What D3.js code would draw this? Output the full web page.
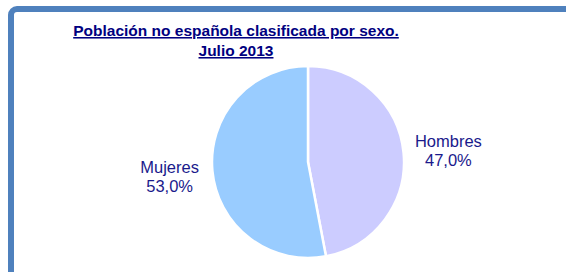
<!DOCTYPE html>
<html>
<head>
<meta charset="utf-8">
<script src="https://cdn.jsdelivr.net/npm/d3@7"></script>
<style>
  body { margin: 0; background: #fff; }
  svg { display: block; }
</style>
</head>
<body>
<script>
// Data
var categories = ['Hombres', 'Mujeres'];
var values = [47.0, 53.0];
var sliceColors = ['#ccccff', '#99ccff'];
var titleLines = ['Población no española clasificada por sexo.', 'Julio 2013'];

var width = 566, height = 272;
var textColor = '#1a1a8c';

var svg = d3.select('body').append('svg')
  .attr('width', width)
  .attr('height', height);

// Blue frame (runs off the right and bottom edges)
svg.append('rect')
  .attr('x', 11).attr('y', 9)
  .attr('width', 620).attr('height', 320)
  .attr('rx', 6)
  .attr('fill', 'none')
  .attr('stroke', '#4f81bd')
  .attr('stroke-width', 6);

// Title
var title = svg.append('text')
  .attr('text-anchor', 'middle')
  .attr('font-family', 'Liberation Sans, Arial, sans-serif')
  .attr('font-weight', 'bold')
  .attr('font-size', 15.5)
  .attr('fill', '#000080')
  .attr('text-decoration', 'underline');
titleLines.forEach((t, i) => {
  title.append('tspan')
    .attr('x', 236)
    .attr('y', 36 + i * 20)
    .text(t);
});

// Pie
var cx = 308, cy = 162, radius = 96;
var data = categories.map((c, i) => ({ name: c, value: values[i], color: sliceColors[i] }));

var pie = d3.pie().sort(null).value(d => d.value);
var arc = d3.arc().innerRadius(0).outerRadius(radius);
var labelArc = d3.arc().innerRadius(141).outerRadius(141);

var g = svg.append('g').attr('transform', 'translate(' + cx + ',' + cy + ')');

var arcs = pie(data);

g.selectAll('path.slice')
  .data(arcs)
  .enter()
  .append('path')
  .attr('class', 'slice')
  .attr('d', arc)
  .attr('fill', d => d.data.color)
  .attr('stroke', '#fff')
  .attr('stroke-width', 2.5);

var fmt = v => v.toFixed(1).replace('.', ',') + '%';

var labels = g.selectAll('text.label')
  .data(arcs)
  .enter()
  .append('text')
  .attr('class', 'label')
  .attr('text-anchor', 'middle')
  .attr('font-family', 'Liberation Sans, Arial, sans-serif')
  .attr('font-size', 16.5)
  .attr('fill', textColor)
  .attr('transform', d => {
    var c = labelArc.centroid(d);
    return 'translate(' + (c[0] + (c[0] < 0 ? 2 : 0)) + ',' + c[1] + ')';
  });

labels.append('tspan')
  .attr('x', 0).attr('y', -2)
  .text(d => d.data.name);
labels.append('tspan')
  .attr('x', 0).attr('y', 17)
  .text(d => fmt(d.data.value));
</script>
</body>
</html>
